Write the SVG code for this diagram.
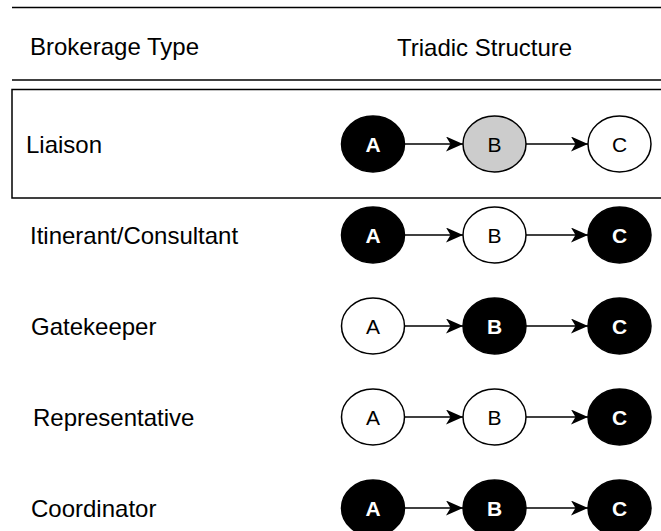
<svg xmlns="http://www.w3.org/2000/svg" width="661" height="531" viewBox="0 0 661 531">
<style>
.lbl{font-family:"Liberation Sans",Arial,sans-serif;font-size:24px;fill:#000}
.nt{font-family:"Liberation Sans",Arial,sans-serif;font-size:21px;text-anchor:middle;dominant-baseline:central}
.blk ellipse{fill:#000;stroke:#000;stroke-width:1.5}
.blk text{fill:#fff;font-weight:bold}
.wht ellipse{fill:#fff;stroke:#000;stroke-width:1.5}
.wht text{fill:#000}
.gry ellipse{fill:#cccccc;stroke:#000;stroke-width:1.5}
.gry text{fill:#000}
.edge{stroke:#000;stroke-width:1.5;fill:none;marker-end:url(#arr)}
.rule{stroke:#000;stroke-width:1.5}
</style>
<defs>
<marker id="arr" viewBox="0 0 17 15" refX="17" refY="7.5" markerWidth="17" markerHeight="15" markerUnits="userSpaceOnUse" orient="auto">
<path d="M0,0 L17,7.5 L0,15 L4.5,7.5 Z" fill="#000"/>
</marker>
</defs>
<rect width="661" height="531" fill="#fff"/>
<g id="table">
<line class="rule" x1="12" y1="7.5" x2="661" y2="7.5"/>
<line class="rule" x1="12" y1="80" x2="661" y2="80"/>
<rect x="12" y="89.5" width="660" height="108.5" fill="none" stroke="#000" stroke-width="1.5"/>
<text class="lbl" x="30" y="55">Brokerage Type</text>
<text class="lbl" x="397" y="55.5">Triadic Structure</text>
<text class="lbl" x="26" y="152.6">Liaison</text>
<text class="lbl" x="30" y="243.6">Itinerant/Consultant</text>
<text class="lbl" x="31" y="334.6">Gatekeeper</text>
<text class="lbl" x="33" y="425.6">Representative</text>
<text class="lbl" x="31" y="516.6">Coordinator</text>
</g>
<g id="connectors">
<path class="edge" d="M404.5,144 L463,144"/>
<path class="edge" d="M526,144 L588,144"/>
<path class="edge" d="M404.5,235 L463,235"/>
<path class="edge" d="M526,235 L588,235"/>
<path class="edge" d="M404.5,326 L463,326"/>
<path class="edge" d="M526,326 L588,326"/>
<path class="edge" d="M404.5,417 L463,417"/>
<path class="edge" d="M526,417 L588,417"/>
<path class="edge" d="M404.5,508 L463,508"/>
<path class="edge" d="M526,508 L588,508"/>
</g>
<g id="liaison-A" class="blk"><ellipse cx="373" cy="144" rx="31.5" ry="28"/><text class="nt" x="373" y="144">A</text></g>
<g id="liaison-B" class="gry"><ellipse cx="494.5" cy="144" rx="31.5" ry="28"/><text class="nt" x="494.5" y="144">B</text></g>
<g id="liaison-C" class="wht"><ellipse cx="619.5" cy="144" rx="31.5" ry="28"/><text class="nt" x="619.5" y="144">C</text></g>
<g id="itinerant-A" class="blk"><ellipse cx="373" cy="235" rx="31.5" ry="28"/><text class="nt" x="373" y="235">A</text></g>
<g id="itinerant-B" class="wht"><ellipse cx="494.5" cy="235" rx="31.5" ry="28"/><text class="nt" x="494.5" y="235">B</text></g>
<g id="itinerant-C" class="blk"><ellipse cx="619.5" cy="235" rx="31.5" ry="28"/><text class="nt" x="619.5" y="235">C</text></g>
<g id="gatekeeper-A" class="wht"><ellipse cx="373" cy="326" rx="31.5" ry="28"/><text class="nt" x="373" y="326">A</text></g>
<g id="gatekeeper-B" class="blk"><ellipse cx="494.5" cy="326" rx="31.5" ry="28"/><text class="nt" x="494.5" y="326">B</text></g>
<g id="gatekeeper-C" class="blk"><ellipse cx="619.5" cy="326" rx="31.5" ry="28"/><text class="nt" x="619.5" y="326">C</text></g>
<g id="representative-A" class="wht"><ellipse cx="373" cy="417" rx="31.5" ry="28"/><text class="nt" x="373" y="417">A</text></g>
<g id="representative-B" class="wht"><ellipse cx="494.5" cy="417" rx="31.5" ry="28"/><text class="nt" x="494.5" y="417">B</text></g>
<g id="representative-C" class="blk"><ellipse cx="619.5" cy="417" rx="31.5" ry="28"/><text class="nt" x="619.5" y="417">C</text></g>
<g id="coordinator-A" class="blk"><ellipse cx="373" cy="508" rx="31.5" ry="28"/><text class="nt" x="373" y="508">A</text></g>
<g id="coordinator-B" class="blk"><ellipse cx="494.5" cy="508" rx="31.5" ry="28"/><text class="nt" x="494.5" y="508">B</text></g>
<g id="coordinator-C" class="blk"><ellipse cx="619.5" cy="508" rx="31.5" ry="28"/><text class="nt" x="619.5" y="508">C</text></g>
</svg>
